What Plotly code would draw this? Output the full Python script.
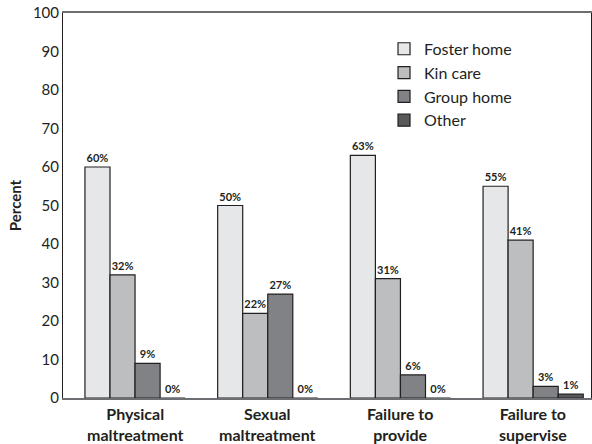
import plotly.graph_objects as go

categories = ["Physical maltreatment", "Sexual maltreatment", "Failure to provide", "Failure to supervise"]
category_labels = ["Physical<br>maltreatment", "Sexual<br>maltreatment", "Failure to<br>provide", "Failure to<br>supervise"]
series_names = ["Foster home", "Kin care", "Group home", "Other"]
foster = [60, 50, 63, 55]
kin = [32, 22, 31, 41]
group = [9, 27, 6, 3]
other = [0, 0, 0, 1]
series_values = [foster, kin, group, other]
y_ticks = list(range(0, 101, 10))

colors = ["#e6e7e8", "#bcbec0", "#808285", "#58595b"]
font_family = "Lato, 'Open Sans', sans-serif"

fig = go.Figure()

for name, vals, col in zip(series_names, series_values, colors):
    fig.add_trace(go.Bar(
        x=categories,
        y=vals,
        name=name,
        marker=dict(color=col, line=dict(color="#231f20", width=1.2)),
        text=[f"{v}%" for v in vals],
        textposition="outside",
        textfont=dict(size=11, color="#231f20", family=font_family, weight="bold"),
        cliponaxis=False,
    ))

# two-line category labels under the axis
for cat, lab in zip(categories, category_labels):
    fig.add_annotation(
        x=cat, y=-0.068, xref="x", yref="paper",
        text=lab, showarrow=False, yanchor="middle",
        font=dict(size=16, family=font_family, weight="bold", color="#231f20"),
    )

fig.update_layout(
    width=592,
    height=444,
    margin=dict(l=63, r=1, t=13, b=46),
    paper_bgcolor="white",
    plot_bgcolor="white",
    barmode="group",
    bargap=0.245,
    bargroupgap=0,
    font=dict(family=font_family, color="#231f20"),
    xaxis=dict(
        type="category",
        range=[-0.543, 3.436],
        showline=True,
        linecolor="#6d6e71",
        linewidth=2,
        mirror=True,
        ticks="",
        showticklabels=False,
        automargin=False,
    ),
    yaxis=dict(
        range=[0, 100],
        tickvals=y_ticks,
        showgrid=False,
        zeroline=False,
        showline=True,
        linecolor="#231f20",
        linewidth=1,
        mirror=True,
        ticks="",
        automargin=False,
        tickfont=dict(size=15, family=font_family),
        title=dict(text="Percent", font=dict(size=15, family=font_family, weight="bold"), standoff=7),
    ),
    legend=dict(
        x=0.608,
        y=0.951,
        xanchor="left",
        yanchor="top",
        font=dict(size=16, family=font_family),
        itemwidth=30,
        tracegroupgap=0,
        bgcolor="rgba(0,0,0,0)",
    ),
    showlegend=True,
)

# drop the default page margin so the figure sits at the window's corner
fig.write_html(
    "out.html",
    config={"displayModeBar": False},
    post_script="document.body.style.margin='0';",
)
